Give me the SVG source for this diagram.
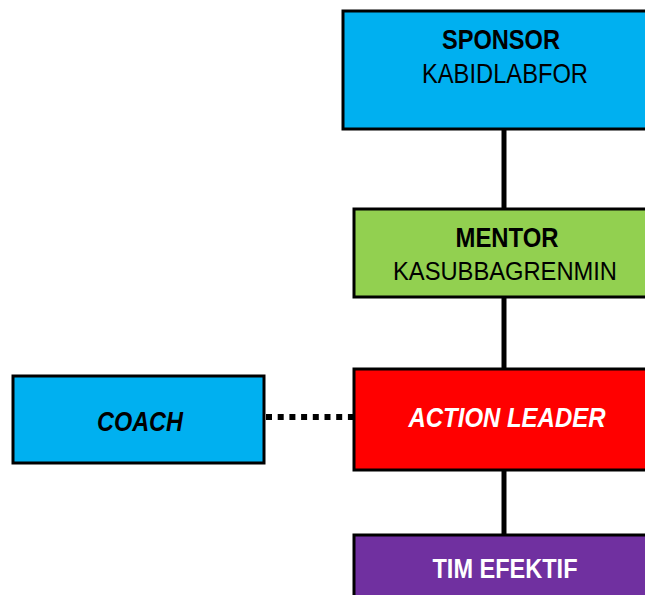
<svg xmlns="http://www.w3.org/2000/svg" width="645" height="595" viewBox="0 0 645 595">
<style>
.box{stroke:#000;stroke-width:3}
.t{font-family:"Liberation Sans",Arial,sans-serif;font-size:28px;text-anchor:middle}
.b{font-weight:bold}
.i{font-style:italic;font-weight:bold}
.w{fill:#fff}
.k{fill:#000}
</style>
<rect width="645" height="595" fill="#fff"/>
<g id="connectors" stroke="#000">
<line x1="504" y1="129" x2="504" y2="210" stroke-width="5"/>
<line x1="504" y1="297" x2="504" y2="370" stroke-width="5"/>
<line x1="504" y1="470" x2="504" y2="536" stroke-width="5"/>
<line x1="266" y1="417" x2="354" y2="417" stroke-width="6" stroke-dasharray="6,5.7"/>
</g>
<g id="sponsor">
<rect class="box" x="343" y="11" width="310" height="118" fill="#00B0F0"/>
<text class="t b k" x="501" y="49" textLength="118" lengthAdjust="spacingAndGlyphs">SPONSOR</text>
<text class="t k" x="505" y="83" textLength="166" lengthAdjust="spacingAndGlyphs">KABIDLABFOR</text>
</g>
<g id="mentor">
<rect class="box" x="354" y="209" width="300" height="88" fill="#92D050"/>
<text class="t b k" x="507" y="247" textLength="103" lengthAdjust="spacingAndGlyphs">MENTOR</text>
<text class="t k" x="505" y="280" font-size="26" style="font-size:26px" textLength="224" lengthAdjust="spacingAndGlyphs">KASUBBAGRENMIN</text>
</g>
<g id="coach">
<rect class="box" x="13" y="376" width="251" height="87" fill="#00B0F0"/>
<text class="t i k" x="140" y="431" textLength="86" lengthAdjust="spacingAndGlyphs">COACH</text>
</g>
<g id="action-leader">
<rect class="box" x="354" y="369" width="300" height="101" fill="#FF0000"/>
<text class="t i w" x="507" y="427" textLength="197" lengthAdjust="spacingAndGlyphs">ACTION LEADER</text>
</g>
<g id="tim-efektif">
<rect class="box" x="354" y="535" width="300" height="80" fill="#7030A0"/>
<text class="t b w" x="505" y="578" textLength="145" lengthAdjust="spacingAndGlyphs">TIM EFEKTIF</text>
</g>
</svg>
